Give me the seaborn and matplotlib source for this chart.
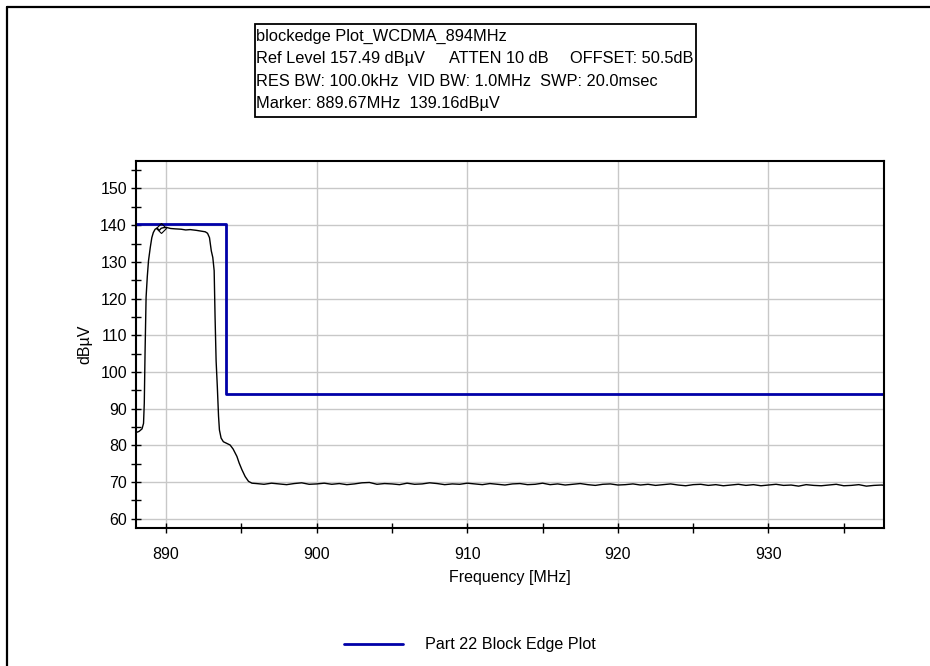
import numpy as np
import pandas as pd
import matplotlib
matplotlib.use("Agg")
import matplotlib.pyplot as plt
from matplotlib.lines import Line2D
from matplotlib.patches import Rectangle
import seaborn as sns

# ---------------- data ----------------
trace_freq = [888.0, 888.2, 888.4, 888.5, 888.55, 888.6, 888.67, 888.75, 888.83, 888.95,
              889.05, 889.15, 889.27, 889.4, 889.55, 889.67, 889.8, 890.0, 890.3, 890.6,
              891.0, 891.3, 891.6, 892.0, 892.3, 892.6, 892.75, 892.88, 893.0, 893.1,
              893.19, 893.25, 893.32, 893.4, 893.48, 893.54, 893.65, 893.8, 894.0, 894.25,
              894.45, 894.7, 894.85, 895.03, 895.25, 895.47, 895.7]
trace_level = [83.5, 83.8, 84.5, 86.0, 91.5, 105.0, 120.4, 126.0, 130.3, 134.0,
               136.6, 138.0, 138.9, 139.2, 138.6, 139.16, 139.3, 139.4, 139.1, 139.0,
               138.9, 138.7, 138.8, 138.6, 138.4, 138.2, 137.8, 136.6, 133.0, 131.2,
               127.6, 115.0, 103.0, 96.0, 88.0, 84.2, 82.0, 81.0, 80.6, 80.1,
               79.0, 77.0, 75.2, 73.4, 71.5, 70.2, 69.7]
floor_level = [69.6, 69.4, 69.7, 69.5, 69.3, 69.6, 69.8, 69.4, 69.5, 69.7,
               69.4, 69.6, 69.3, 69.5, 69.8, 69.9, 69.4, 69.6, 69.5, 69.3,
               69.7, 69.4, 69.5, 69.8, 69.6, 69.3, 69.5, 69.4, 69.7, 69.5,
               69.3, 69.6, 69.4, 69.2, 69.5, 69.6, 69.3, 69.4, 69.7, 69.3,
               69.5, 69.2, 69.4, 69.6, 69.3, 69.1, 69.4, 69.5, 69.2, 69.3,
               69.5, 69.2, 69.4, 69.1, 69.3, 69.5, 69.2, 69.0, 69.3, 69.4,
               69.1, 69.3, 69.0, 69.2, 69.4, 69.1, 69.3, 69.0, 69.2, 69.4,
               69.1, 69.2, 68.9, 69.3, 69.1, 69.0, 69.2, 69.4, 69.0, 69.1,
               69.3, 68.9, 69.1, 69.2, 69.0]
floor_start, floor_stop = 896.0, 938.0

limit_freq = [888.0, 894.0, 894.0, 937.7]
limit_level = [140.2, 140.2, 94.0, 94.0]

marker_freq = [889.67]
marker_level = [139.16]

x_ticks = [890, 900, 910, 920, 930]
y_ticks = [60, 70, 80, 90, 100, 110, 120, 130, 140, 150]

# info box text, one list of segments per line
info_lines = [
    ["blockedge Plot_WCDMA_894MHz"],
    ["Ref Level 157.49 dB\u00b5V", "ATTEN 10 dB", "OFFSET: 50.5dB"],
    ["RES BW: 100.0kHz  VID BW: 1.0MHz  SWP: 20.0msec"],
    ["Marker: 889.67MHz  139.16dB\u00b5V"],
]
info_x = [
    [256],
    [256, 449, 570],
    [256],
    [256],
]
legend_label = "Part 22 Block Edge Plot"
x_label = "Frequency [MHz]"
y_label = "dB\u00b5V"

# ---------------- build frames ----------------
floor_freq = np.linspace(floor_start, floor_stop, len(floor_level))
trace_df = pd.DataFrame({
    "freq": list(trace_freq) + list(floor_freq),
    "level": list(trace_level) + list(floor_level),
})
limit_df = pd.DataFrame({"freq": limit_freq, "level": limit_level})

# ---------------- plot ----------------
sns.set_theme(style="white")
plt.rcParams["font.family"] = ["Liberation Sans", "DejaVu Sans"]

W, H = 930, 666
fig = plt.figure(figsize=(W / 100, H / 100), dpi=100)
ax = fig.add_axes([136 / W, 1 - 528 / H, (884 - 136) / W, (528 - 161) / H])

sns.lineplot(data=trace_df, x="freq", y="level", ax=ax, color="black",
             linewidth=1.0, estimator=None, sort=False, legend=False)
sns.lineplot(data=limit_df, x="freq", y="level", ax=ax, color="#0000a8",
             linewidth=2.0, estimator=None, sort=False, label=legend_label)
ax.plot(marker_freq, marker_level, marker="D", markersize=5, markerfacecolor="none",
        markeredgecolor="black", markeredgewidth=0.8, linestyle="none")

ax.set_xlim(888.0, 937.67)
ax.set_ylim(57.49, 157.49)
ax.set_xticks(x_ticks)
ax.set_yticks(y_ticks)
ax.set_xticks(np.arange(890, 936, 5), minor=True)
ax.set_yticks(np.arange(60, 157, 5), minor=True)
ax.set_yticklabels([str(v) for v in y_ticks])
ax.set_xticklabels([str(v) for v in x_ticks])
ax.grid(True, which="major", color="#c8c8c8", linewidth=1.0)
ax.set_axisbelow(True)

for s in ax.spines.values():
    s.set_color("black")
    s.set_linewidth(1.5)
    s.set_visible(True)

ax.tick_params(axis="both", which="both", direction="inout", length=7, width=1.0,
               color="black", labelsize=11.5, labelcolor="black")
ax.tick_params(axis="x", which="both", bottom=True, pad=10)
ax.tick_params(axis="y", which="both", left=True, pad=3)

ax.set_xlabel(x_label, fontsize=11.5, color="black", labelpad=6)
ax.set_ylabel(y_label, fontsize=11.5, color="black", labelpad=6)

leg = ax.legend(loc="center", bbox_to_anchor=(470 / W, 1 - 645 / H),
                bbox_transform=fig.transFigure, frameon=False, fontsize=11.6,
                handlelength=3.7, handletextpad=1.37)
for t in leg.get_texts():
    t.set_color("black")

# info box
fig.add_artist(Rectangle((255 / W, 1 - 117 / H), (696 - 255) / W, (117 - 24) / H,
                         transform=fig.transFigure, fill=False, edgecolor="black",
                         linewidth=1.3))
for i, (segs, xs) in enumerate(zip(info_lines, info_x)):
    for seg, x in zip(segs, xs):
        fig.text(x / W, 1 - (36 + 22.5 * i) / H, seg, fontsize=11.8, color="black",
                 ha="left", va="center")

# outer frame (top and left edges)
fig.add_artist(Line2D([7 / W, 1.0], [1 - 7 / H, 1 - 7 / H], transform=fig.transFigure,
                      color="black", linewidth=1.6))
fig.add_artist(Line2D([7 / W, 7 / W], [0.0, 1 - 7 / H], transform=fig.transFigure,
                      color="black", linewidth=1.6))

fig.savefig("out.png", dpi=100, facecolor="white")
